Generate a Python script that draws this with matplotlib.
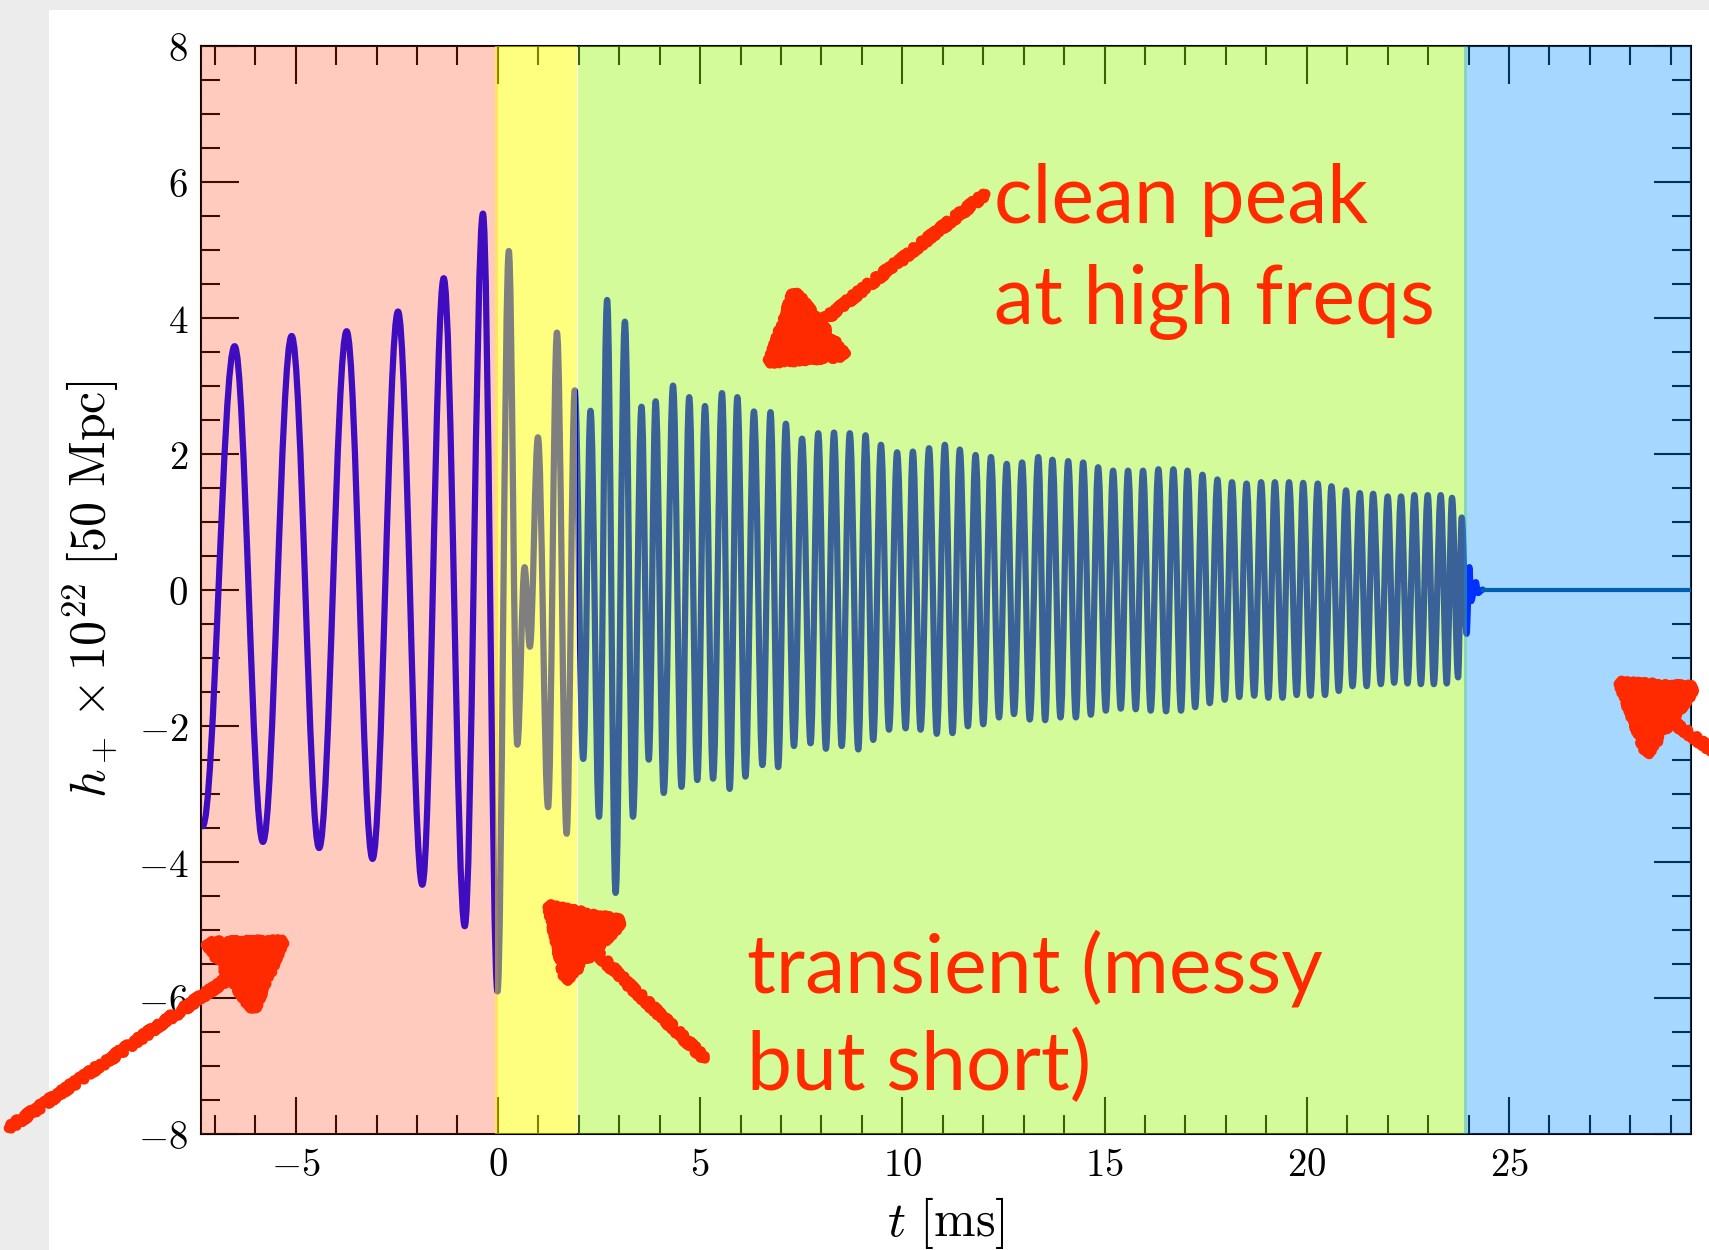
import matplotlib
matplotlib.use('Agg')
import matplotlib.pyplot as plt
from matplotlib.path import Path
from matplotlib.patches import PathPatch, Rectangle
from matplotlib.ticker import MultipleLocator, FuncFormatter

plt.rcParams['mathtext.fontset'] = 'cm'

# turning points of h+ (t in ms, h+ x 1e22 at 50 Mpc)
t_inspiral = [-7.30, -6.51, -5.81, -5.10, -4.42, -3.74, -3.10, -2.47, -1.87, -1.34, -0.82, -0.37, -0.01]
h_inspiral = [-3.48, 3.58, -3.71, 3.73, -3.80, 3.80, -3.96, 4.09, -4.34, 4.58, -4.95, 5.53, -5.91]

t_transient = [0.27, 0.48, 0.66, 0.79, 0.99, 1.24, 1.46, 1.70, 1.90]
h_transient = [4.98, -2.28, 0.33, -0.84, 2.24, -3.20, 3.78, -3.59, 2.93]

t_post = [2.11, 2.29, 2.50, 2.70, 2.91, 3.14, 3.34, 3.55, 3.73, 3.90,
          4.10, 4.33, 4.54, 4.73, 4.93, 5.12, 5.32, 5.54, 5.73, 5.92,
          6.12, 6.33, 6.54, 6.74, 6.93, 7.12, 7.32, 7.52, 7.73, 7.92,
          8.11, 8.31, 8.50, 8.70, 8.91, 9.09, 9.28, 9.47, 9.67, 9.87,
          10.08, 10.26, 10.45, 10.66, 10.85, 11.05, 11.24, 11.42, 11.62, 11.81,
          12.00, 12.19, 12.39, 12.58, 12.76, 12.96, 13.15, 13.36, 13.53, 13.71,
          13.91, 14.10, 14.29, 14.47, 14.66, 14.84, 15.03, 15.21, 15.40, 15.58,
          15.77, 15.95, 16.14, 16.33, 16.52, 16.70, 16.89, 17.05, 17.24, 17.42,
          17.60, 17.79, 17.97, 18.15, 18.33, 18.51, 18.70, 18.87, 19.05, 19.21,
          19.40, 19.56, 19.75, 19.91, 20.09, 20.27, 20.45, 20.61, 20.79, 20.97,
          21.13, 21.31, 21.48, 21.64, 21.83, 22.00, 22.16, 22.33, 22.49, 22.66,
          22.82, 22.99, 23.14, 23.31, 23.46, 23.59, 23.74, 23.83, 23.95]
h_post = [-2.49, 2.63, -3.34, 4.26, -4.46, 3.94, -3.34, 2.69, -2.50, 2.77,
          -2.99, 3.00, -2.90, 2.83, -2.80, 2.70, -2.78, 2.89, -2.93, 2.83,
          -2.75, 2.62, -2.58, 2.61, -2.61, 2.44, -2.30, 2.22, -2.26, 2.30,
          -2.34, 2.31, -2.30, 2.30, -2.35, 2.27, -2.21, 2.13, -2.06, 2.02,
          -2.04, 2.03, -2.06, 2.08, -2.12, 2.13, -2.11, 2.06, -2.01, 1.98,
          -1.98, 1.95, -1.88, 1.85, -1.83, 1.87, -1.91, 1.95, -1.92, 1.91,
          -1.88, 1.89, -1.88, 1.87, -1.84, 1.80, -1.78, 1.75, -1.75, 1.75,
          -1.76, 1.75, -1.78, 1.77, -1.79, 1.77, -1.78, 1.75, -1.73, 1.69,
          -1.67, 1.62, -1.62, 1.58, -1.58, 1.56, -1.56, 1.58, -1.59, 1.58,
          -1.59, 1.58, -1.55, 1.57, -1.56, 1.56, -1.55, 1.52, -1.49, 1.46,
          -1.42, 1.42, -1.42, 1.41, -1.39, 1.37, -1.37, 1.37, -1.38, 1.39,
          -1.39, 1.39, -1.39, 1.39, -1.38, 1.35, -1.29, 1.06, -0.65]

t_ring = [24.02, 24.06, 24.18, 24.23, 24.35]
h_ring = [0.33, -0.17, 0.11, -0.05, 0.0]

t_tail = [24.35, 29.5]
h_tail = [0.0, 0.0]

# phase boundaries and shading
phase_start = [-7.5, -0.07, 1.99, 23.89]
phase_end = [0.0, 1.96, 23.95, 30.0]
phase_color = ['#ff3300', '#ffff00', '#93f700', '#008fff']
phase_alpha = [0.25, 0.5, 0.4, 0.35]

red = '#ff2a00'


def smooth_path(t, h, k=0.364):
    # cubic segments between turning points, flat tangents at each one
    verts = [(t[0], h[0])]
    codes = [Path.MOVETO]
    for i in range(1, len(t)):
        dt = t[i] - t[i - 1]
        verts += [(t[i - 1] + k * dt, h[i - 1]), (t[i] - k * dt, h[i]), (t[i], h[i])]
        codes += [Path.CURVE4] * 3
    return Path(verts, codes)


fig = plt.figure(figsize=(17.09, 12.5), dpi=100, facecolor='#ececec')
fig.add_artist(Rectangle((49 / 1709, 0), 1, 1 - 10 / 1250, transform=fig.transFigure,
                         facecolor='white', edgecolor='none', zorder=-10))
ax = fig.add_axes([0.1174, 0.0931, 0.8721, 0.8704])
ax.set_facecolor('white')

tt = t_inspiral + t_transient + t_post + t_ring
hh = h_inspiral + h_transient + h_post + h_ring
ax.add_patch(PathPatch(smooth_path(tt, hh), facecolor='none', edgecolor='#0000ff',
                       lw=4.5, capstyle='round', joinstyle='round', zorder=2))
ax.plot(t_tail, h_tail, color='#0060b0', lw=3, zorder=4)

for x0, x1, c, a in zip(phase_start, phase_end, phase_color, phase_alpha):
    ax.axvspan(x0, x1, color=c, alpha=a, lw=0, zorder=3)

ax.set_xlim(-7.35, 29.5)
ax.set_ylim(-8, 8)
ax.xaxis.set_major_locator(MultipleLocator(5))
ax.xaxis.set_minor_locator(MultipleLocator(1))
ax.yaxis.set_major_locator(MultipleLocator(2))
ax.yaxis.set_minor_locator(MultipleLocator(0.5))
fmt = FuncFormatter(lambda v, p: f'${v:g}$')
ax.xaxis.set_major_formatter(fmt)
ax.yaxis.set_major_formatter(fmt)
ax.tick_params(which='both', direction='in', top=True, right=True, width=1.5,
               labelsize=28, pad=9)
ax.tick_params(which='major', length=27)
ax.tick_params(which='minor', length=13.7)
for s in ax.spines.values():
    s.set_linewidth(1.5)

ax.set_xlabel(r'$t\ [\mathrm{ms}]$', fontsize=36, labelpad=8)
ax.set_ylabel(r'$h_+ \times 10^{22}\ [50\ \mathrm{Mpc}]$', fontsize=36, labelpad=12)

# annotations
txt = dict(color=red, fontsize=58, family=['Lato', 'DejaVu Sans'], ha='left', va='baseline', zorder=6)
ax.text(12.26, 5.39, 'clean peak', **txt)
ax.text(12.26, 3.91, 'at high freqs', **txt)
ax.text(6.15, -5.92, 'transient (messy', **txt)
ax.text(6.15, -7.36, 'but short)', **txt)

arrows = [((12.06, 5.82), (6.55, 3.27)),
          ((5.12, -6.90), (1.11, -4.57)),
          ((-12.1, -7.92), (-5.15, -5.10)),
          ((31.2, -2.88), (27.57, -1.30))]
for tail, head in arrows:
    ann = ax.annotate('', xy=head, xytext=tail, annotation_clip=False, zorder=6,
                      arrowprops=dict(arrowstyle='-|>,head_length=4.5,head_width=2.9',
                                      mutation_scale=10, lw=7, color=red,
                                      shrinkA=0, shrinkB=0))
    ann.arrow_patch.set_sketch_params(scale=3, length=5, randomness=4)

fig.savefig('out.png', dpi=100, facecolor=fig.get_facecolor())
